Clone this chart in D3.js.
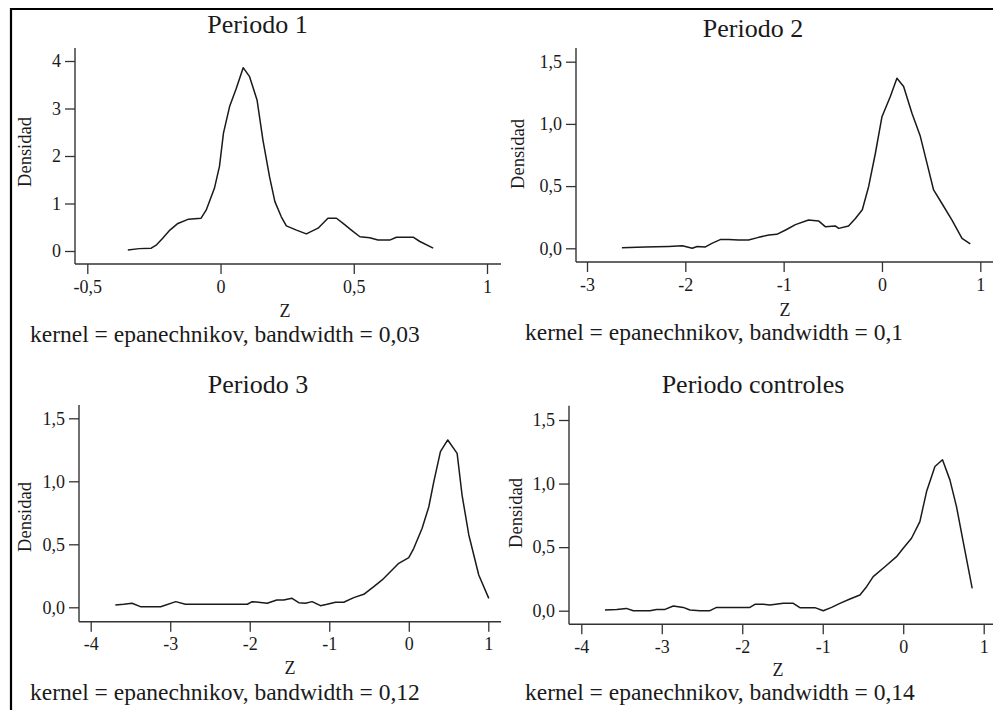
<!DOCTYPE html>
<html>
<head>
<meta charset="utf-8">
<script src="https://cdn.jsdelivr.net/npm/d3@7"></script>
<style>
  body { margin: 0; background: #fff; }
  svg text { font-family: "Liberation Serif", "Times New Roman", serif; fill: #1a1a1a; }
</style>
</head>
<body>
<div class="svg-container"></div>
<script>
// density curves, [z, densidad]
var period1 = [[-0.348, 0.02], [-0.305, 0.05], [-0.26, 0.06], [-0.24, 0.13], [-0.217, 0.27], [-0.19, 0.44],
  [-0.16, 0.58], [-0.12, 0.67], [-0.073, 0.69], [-0.054, 0.86], [-0.023, 1.32], [-0.004, 1.78], [0.011, 2.48],
  [0.034, 3.04], [0.059, 3.42], [0.085, 3.86], [0.109, 3.67], [0.137, 3.18], [0.159, 2.34], [0.184, 1.56],
  [0.204, 1.04], [0.228, 0.72], [0.247, 0.53], [0.285, 0.44], [0.322, 0.36], [0.366, 0.48], [0.403, 0.69],
  [0.435, 0.69], [0.46, 0.58], [0.491, 0.44], [0.523, 0.30], [0.56, 0.28], [0.591, 0.23], [0.635, 0.23],
  [0.66, 0.29], [0.723, 0.29], [0.748, 0.20], [0.798, 0.06]]

var period2 = [[-2.645, 0.005], [-2.41, 0.01], [-2.17, 0.015], [-2.03, 0.02], [-1.93, 0.0], [-1.88, 0.015],
  [-1.80, 0.01], [-1.73, 0.04], [-1.645, 0.07], [-1.56, 0.07], [-1.46, 0.067], [-1.357, 0.067], [-1.255, 0.088],
  [-1.15, 0.107], [-1.07, 0.112], [-0.98, 0.147], [-0.88, 0.19], [-0.747, 0.227], [-0.645, 0.22], [-0.577, 0.174],
  [-0.475, 0.18], [-0.44, 0.16], [-0.34, 0.18], [-0.27, 0.24], [-0.20, 0.31], [-0.136, 0.495], [-0.068, 0.76],
  [0.0, 1.058], [0.085, 1.22], [0.152, 1.367], [0.22, 1.30], [0.305, 1.085], [0.39, 0.90], [0.458, 0.683],
  [0.525, 0.469], [0.61, 0.36], [0.712, 0.227], [0.814, 0.08], [0.898, 0.035]]

var period3 = [[-3.69, 0.018], [-3.585, 0.024], [-3.48, 0.032], [-3.375, 0.005], [-3.12, 0.005], [-2.93, 0.045],
  [-2.81, 0.024], [-2.03, 0.024], [-1.97, 0.045], [-1.78, 0.032], [-1.66, 0.058], [-1.573, 0.058], [-1.468, 0.071],
  [-1.384, 0.037], [-1.3, 0.032], [-1.216, 0.045], [-1.11, 0.013], [-1.027, 0.024], [-0.922, 0.04], [-0.818, 0.04],
  [-0.692, 0.077], [-0.566, 0.103], [-0.44, 0.164], [-0.335, 0.217], [-0.21, 0.296], [-0.126, 0.349], [0.0, 0.394],
  [0.063, 0.468], [0.168, 0.627], [0.252, 0.798], [0.315, 0.997], [0.398, 1.235], [0.49, 1.328], [0.608, 1.222],
  [0.67, 0.891], [0.755, 0.574], [0.88, 0.256], [1.006, 0.071]]

var periodControles = [[-3.706, 0.005], [-3.56, 0.01], [-3.44, 0.018], [-3.354, 0.0], [-3.147, 0.0], [-3.065, 0.01],
  [-2.96, 0.01], [-2.857, 0.037], [-2.733, 0.026], [-2.65, 0.005], [-2.526, 0.0], [-2.402, 0.0], [-2.319, 0.026],
  [-2.153, 0.026], [-1.905, 0.026], [-1.843, 0.05], [-1.739, 0.05], [-1.656, 0.045], [-1.49, 0.058], [-1.366, 0.058],
  [-1.284, 0.024], [-1.097, 0.024], [-0.994, 0.0], [-0.89, 0.026], [-0.787, 0.058], [-0.662, 0.092], [-0.538, 0.123],
  [-0.455, 0.189], [-0.373, 0.268], [-0.228, 0.346], [-0.083, 0.425], [0.0, 0.491], [0.103, 0.57], [0.207, 0.701],
  [0.29, 0.937], [0.394, 1.134], [0.488, 1.187], [0.58, 1.029], [0.662, 0.819], [0.745, 0.543], [0.857, 0.176]]

var titles = ['Periodo 1', 'Periodo 2', 'Periodo 3', 'Periodo controles']
var bandwidths = ['0,03', '0,1', '0,12', '0,14']
var xTicks1 = [-0.5, 0, 0.5, 1]
var xTicks2 = [-3, -2, -1, 0, 1]
var xTicks34 = [-4, -3, -2, -1, 0, 1]
var yTicks1 = [0, 1, 2, 3, 4]
var yTicks234 = [0, 0.5, 1, 1.5]

// layout of each panel (pixel positions)
var panels = [
  { data: period1, xDom: [-0.5, 1], xRange: [87.3, 487], yDom: [0, 4], yRange: [251, 61],
    xTicks: xTicks1, yTicks: yTicks1, yFmt: d3.format('d'),
    axisX: 75, top: 48, base: 264, end: 501,
    title: [257.5, 33], ylab: [25, 152], zlab: [285, 317], kern: [30, 342] },
  { data: period2, xDom: [-3, 1], xRange: [587, 980.3], yDom: [0, 1.5], yRange: [248.3, 61.7],
    xTicks: xTicks2, yTicks: yTicks234, yFmt: d3.format('.1f'),
    axisX: 576, top: 48, base: 262, end: 993,
    title: [753, 37], ylab: [518, 154], zlab: [785, 316], kern: [525, 340] },
  { data: period3, xDom: [-4, 1], xRange: [90.7, 488.3], yDom: [0, 1.5], yRange: [607.3, 418.3],
    xTicks: xTicks34, yTicks: yTicks234, yFmt: d3.format('.1f'),
    axisX: 79, top: 405, base: 621.7, end: 501,
    title: [258, 393], ylab: [25, 517], zlab: [290, 674], kern: [30, 700] },
  { data: periodControles, xDom: [-4, 1], xRange: [581.3, 983.7], yDom: [0, 1.5], yRange: [610.7, 420],
    xTicks: xTicks34, yTicks: yTicks234, yFmt: d3.format('.1f'),
    axisX: 569, top: 405.7, base: 624.3, end: 993,
    title: [753, 393], ylab: [516, 513], zlab: [778, 676], kern: [525, 700] }
]

var svg = d3.select('.svg-container').append('svg')
    .attr('width', 993)
    .attr('height', 710)

// outer frame, top and left only
svg.append('line')
    .attr('x1', 10).attr('x2', 993).attr('y1', 9).attr('y2', 9)
    .attr('stroke', '#000').attr('stroke-width', 2.2)
svg.append('line')
    .attr('x1', 11).attr('x2', 11).attr('y1', 8).attr('y2', 710)
    .attr('stroke', '#000').attr('stroke-width', 2.2)

function commaFmt(f) {
  return function (d) { return f(d).replace('.', ',').replace('−', '-') }
}

panels.forEach(function (p, i) {
  var x = d3.scaleLinear().domain(p.xDom).range(p.xRange)
  var y = d3.scaleLinear().domain(p.yDom).range(p.yRange)
  var g = svg.append('g')

  // y axis ticks
  var gy = g.append('g')
      .attr('transform', 'translate(' + p.axisX + ',0)')
      .call(d3.axisLeft(y).tickValues(p.yTicks).tickSize(10).tickPadding(4)
          .tickFormat(commaFmt(p.yFmt)))
  gy.select('.domain').remove()

  // x axis ticks
  var gx = g.append('g')
      .attr('transform', 'translate(0,' + p.base + ')')
      .call(d3.axisBottom(x).tickValues(p.xTicks).tickSize(10).tickPadding(6)
          .tickFormat(commaFmt(d3.format('~g'))))
  gx.select('.domain').remove()

  g.selectAll('.tick line').attr('stroke', '#333').attr('stroke-width', 1.3)
  g.selectAll('.tick text')
      .attr('font-size', '18px')
      .attr('fill', '#1a1a1a')

  // axis lines
  g.append('line')
      .attr('x1', p.axisX).attr('x2', p.axisX).attr('y1', p.top).attr('y2', p.base)
      .attr('stroke', '#333').attr('stroke-width', 1.4)
  g.append('line')
      .attr('x1', p.axisX).attr('x2', p.end).attr('y1', p.base).attr('y2', p.base)
      .attr('stroke', '#333').attr('stroke-width', 1.4)

  // curve
  g.append('path')
      .datum(p.data)
      .attr('fill', 'none')
      .attr('stroke', '#1a1a1a')
      .attr('stroke-width', 1.5)
      .attr('stroke-linejoin', 'round')
      .attr('d', d3.line()
          .x(function (d) { return x(d[0]) })
          .y(function (d) { return y(d[1]) }))

  g.append('text')
      .attr('x', p.title[0]).attr('y', p.title[1])
      .attr('text-anchor', 'middle')
      .attr('font-size', '26px')
      .text(titles[i])

  g.append('text')
      .attr('transform', 'translate(' + p.ylab[0] + ',' + p.ylab[1] + ') rotate(-90)')
      .attr('text-anchor', 'middle')
      .attr('dy', '0.35em')
      .attr('font-size', '18.5px')
      .text('Densidad')

  g.append('text')
      .attr('x', p.zlab[0]).attr('y', p.zlab[1])
      .attr('text-anchor', 'middle')
      .attr('font-size', '18px')
      .text('Z')

  g.append('text')
      .attr('x', p.kern[0]).attr('y', p.kern[1])
      .attr('font-size', '23.5px')
      .text('kernel = epanechnikov, bandwidth = ' + bandwidths[i])
})
</script>
</body>
</html>
